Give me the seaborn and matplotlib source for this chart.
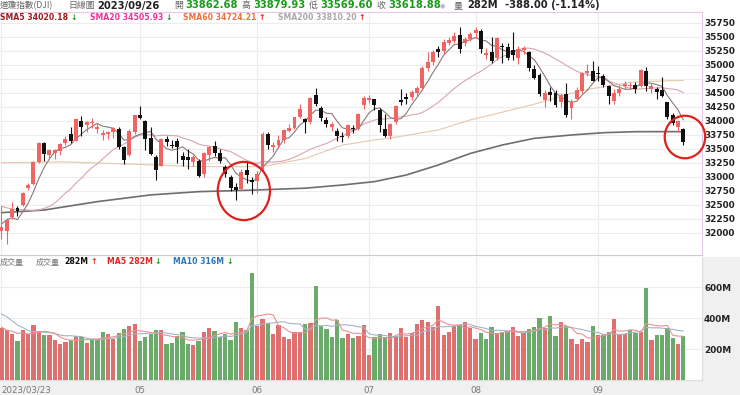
import numpy as np
import pandas as pd
import matplotlib
matplotlib.use("Agg")
import matplotlib.pyplot as plt
from matplotlib.patches import Ellipse, Rectangle
import seaborn as sns

# daily OHLC of the Dow Jones index, 2023/03/23 .. 2023/09/26
opens = [32040, 32030, 32290, 32440, 32500, 32810, 32870,
         33260, 33600, 33400, 33420, 33470, 33600, 33760, 33650, 34000, 33930, 33960, 33860, 33750, 33760, 33800, 33860, 33530, 33390, 33800,
         34100, 34000, 33700, 33350, 33200, 33680, 33580, 33650, 33380, 33350, 33260, 33290, 33050, 33400, 33560, 33420, 33180, 33000, 32820, 32790, 33120, 32950,
         32920, 33140, 33760, 33540, 33580, 33660, 33830, 33880, 34080, 34040, 33980, 34470, 34230, 34020, 33900, 33830, 33730, 33730, 33870, 33860, 34280,
         34380, 34390, 34200, 33850, 33740, 33980, 34380, 34420, 34420, 34500, 34590, 34950, 35050, 35290, 35250, 35400, 35430, 35540, 35400, 35470,
         35570, 35600, 35180, 35240, 35120, 35340, 35320, 35260, 35120, 35260, 35230, 34930, 34820, 34370, 34520, 34500, 34340, 34490, 34230, 34400, 34540, 34860, 34900,
         34860, 34800, 34620, 34360, 34500, 34620, 34620, 34640, 34620, 34900, 34570, 34580, 34560, 34340, 34100, 33900, 33862.68]
highs = [32480, 32260, 32550, 32480, 32740, 32900, 33280,
         33630, 33620, 33500, 33500, 33600, 33740, 33900, 34050, 34090, 34000, 34060, 33950, 33840, 33830, 33900, 33890, 33560, 33850, 34110,
         34260, 34020, 33900, 33400, 33700, 33730, 33660, 33700, 33450, 33500, 33400, 33330, 33450, 33550, 33650, 33500, 33210, 33030, 32900, 33150, 33260, 33000,
         33100, 33800, 33800, 33620, 33750, 33850, 33950, 34070, 34310, 34060, 34420, 34590, 34260, 34080, 33980, 33880, 33800, 33950, 33930, 34150, 34450,
         34470, 34400, 34230, 34130, 33960, 34280, 34580, 34500, 34560, 34620, 34980, 35230, 35270, 35330, 35460, 35500, 35580, 35680, 35500, 35580,
         35680, 35640, 35300, 35500, 35500, 35400, 35400, 35580, 35330, 35330, 35250, 35000, 34850, 34550, 34600, 34560, 34500, 34680, 34400, 34600, 34870, 35020, 35070,
         34980, 34840, 34650, 34580, 34650, 34720, 34700, 34700, 34930, 34960, 34680, 34600, 34790, 34340, 34150, 34020, 33879.93]
lows = [31900, 31810, 32250, 32300, 32480, 32760, 32850,
        33250, 33290, 33330, 33320, 33400, 33580, 33600, 33640, 33730, 33800, 33880, 33780, 33660, 33680, 33700, 33500, 33240, 33380, 33760,
        34030, 33480, 33400, 32940, 33190, 33560, 33520, 33250, 33200, 33150, 33200, 33000, 33000, 33280, 33380, 33250, 33000, 32750, 32590, 32770, 32900, 32700,
        32710, 33100, 33500, 33450, 33520, 33600, 33800, 33850, 34050, 33780, 33950, 34270, 34000, 33900, 33820, 33650, 33630, 33700, 33790, 33840, 34220,
        34330, 34200, 33800, 33720, 33680, 33940, 34290, 34300, 34380, 34450, 34560, 34900, 35000, 35150, 35200, 35350, 35400, 35210, 35330, 35420,
        35480, 35210, 35100, 35030, 35080, 35030, 35080, 35080, 35020, 35200, 34900, 34750, 34450, 34250, 34350, 34250, 34250, 34070, 34040, 34380, 34500, 34810, 34710,
        34720, 34600, 34300, 34310, 34450, 34580, 34580, 34500, 34600, 34540, 34500, 34400, 34420, 34030, 33930, 33800, 33569.60]
closes = [32105, 32237, 32432, 32394, 32717, 32859, 33274,
          33601, 33402, 33482, 33485, 33587, 33684, 33646, 34029, 33886, 33987, 33976, 33897, 33786, 33809, 33875, 33530, 33301, 33826, 34098,
          34051, 33684, 33414, 33128, 33674, 33619, 33562, 33531, 33309, 33300, 33349, 33012, 33420, 33535, 33427, 33286, 33056, 32800, 32765, 33093, 33042, 32908,
          33061, 33762, 33563, 33573, 33665, 33833, 33876, 34066, 34212, 33979, 34408, 34299, 34053, 33951, 33946, 33727, 33714, 33927, 33852, 34122, 34408,
          34418, 34288, 33922, 33734, 33944, 34261, 34347, 34395, 34509, 34586, 34952, 35061, 35225, 35228, 35411, 35438, 35520, 35282, 35459, 35560,
          35630, 35283, 35215, 35066, 35473, 35314, 35123, 35176, 35281, 35308, 34946, 34766, 34475, 34501, 34464, 34288, 34472, 34099, 34347, 34560, 34852.67, 34890.24, 34721.91,
          34837.71, 34641.97, 34443.19, 34500.73, 34576.59, 34663.72, 34645.99, 34575.53, 34907.11, 34618.24, 34624.30, 34517.73, 34440.88, 34070.42, 33963.84, 34006.88, 33618.88]
# volume, millions of shares
volumes = [337, 320, 295, 252, 320, 295, 355, 318, 288, 288,
           260, 234, 243, 260, 282, 280, 237, 262, 262, 312,
           297, 262, 303, 327, 348, 359, 252, 277, 297, 320,
           320, 230, 237, 282, 310, 232, 226, 252, 312, 335,
           316, 275, 297, 256, 372, 333, 325, 692, 350, 392,
           370, 297, 353, 275, 267, 312, 312, 359, 366, 606,
           346, 329, 280, 385, 271, 299, 271, 282, 353, 161,
           277, 299, 277, 305, 284, 335, 280, 305, 361, 387,
           372, 342, 477, 288, 312, 350, 353, 372, 335, 262,
           305, 267, 344, 305, 312, 316, 342, 284, 305, 327,
           342, 400, 333, 413, 284, 374, 348, 264, 232, 267,
           245, 350, 288, 288, 310, 392, 297, 297, 322, 301,
           312, 592, 258, 290, 290, 333, 273, 232, 282]
# sessions before the window, only needed to start the moving averages
closes_before = [32817, 32889, 32657, 32662, 33004, 33391, 33431, 32856, 32798, 32255,
                 31910, 31819, 32155, 31875, 32247, 31862, 32245, 32561, 32030]
volumes_before = [500, 560, 520, 480, 493, 420, 330, 320, 300]
# long averages (session index, value)
sma60_idx = [0, 12, 24, 37, 49, 57, 64, 70, 74, 82, 88, 92, 100, 109, 119, 128]
sma60_val = [33255, 33270, 33230, 33185, 33185, 33330, 33570, 33660, 33710, 33840, 34020, 34110, 34300, 34550, 34700, 34724.21]
sma200_idx = [0, 8, 18, 28, 37, 47, 57, 64, 70, 76, 82, 88, 94, 100, 107, 113, 119, 128]
sma200_val = [32363, 32410, 32560, 32680, 32738, 32765, 32800, 32857, 32917, 33036, 33214, 33420, 33571, 33690, 33750, 33791, 33809, 33810.20]
holidays = ["2023-04-07", "2023-05-29", "2023-06-19", "2023-07-04", "2023-09-04"]

dates = pd.bdate_range("2023-03-23", "2023-09-26")
dates = dates[~dates.isin(pd.to_datetime(holidays))]
n = len(closes)

df = pd.DataFrame({"i": np.arange(n), "open": opens, "high": highs, "low": lows,
                   "close": closes, "vol": volumes})
all_close = pd.Series(closes_before + closes, dtype=float)
df["sma5"] = all_close.rolling(5).mean().iloc[len(closes_before):].values
df["sma20"] = all_close.rolling(20).mean().iloc[len(closes_before):].values
prev_close = all_close.shift(1).iloc[len(closes_before):].values
df["dir"] = np.where(df["close"] >= prev_close, "up", "down")
all_vol = pd.Series(volumes_before + volumes, dtype=float)
df["vma5"] = all_vol.rolling(5).mean().iloc[len(volumes_before):].values
df["vma10"] = all_vol.rolling(10).mean().iloc[len(volumes_before):].values

month = dates.month
tick_pos = [0] + [i for i in range(1, n) if month[i] != month[i - 1] and month[i] >= 5]
tick_lab = [dates[0].strftime("%Y/%m/%d")] + [dates[i].strftime("%m") for i in tick_pos[1:]]

RED = "#f06464"
BLACK = "#111111"
GREEN_VOL = "#62b462"
RED_VOL = "#f25d5d"
UP_TXT = "#e0201a"
DN_TXT = "#1c9a1c"

sns.set_style("white")
plt.rcParams["font.family"] = ["DejaVu Sans", "Noto Sans CJK TC"]

W, H = 740, 395
fig = plt.figure(figsize=(W / 100, H / 100), dpi=100)
fig.patch.set_facecolor("white")
fig.patches.append(Rectangle((0, 0), 1, 1 - 257 / H, transform=fig.transFigure,
                             color="#f0f0f0", zorder=-5))


def rect(x0, y0, x1, y1):
    return [x0 / W, 1 - y1 / H, (x1 - x0) / W, (y1 - y0) / H]


XLIM = (-0.28, 131.5)

# ---- price panel
ax = fig.add_axes(rect(0, 12, 702, 255))
ax.set_facecolor("white")
sns.lineplot(x=sma200_idx, y=sma200_val, ax=ax, color="#6e6e6e", lw=1.2, zorder=2)
sns.lineplot(x=sma60_idx, y=sma60_val, ax=ax, color="#e6c8ae", lw=0.8, zorder=2)
sns.lineplot(data=df, x="i", y="sma20", ax=ax, color="#d9a6ae", lw=0.8, zorder=2)
sns.lineplot(data=df, x="i", y="sma5", ax=ax, color="#8e7878", lw=0.8, zorder=2)

up = df["close"] >= df["open"]
ccol = np.where(up, RED, BLACK)
body_lo = np.minimum(df["open"], df["close"])
body_h = np.maximum((df["close"] - df["open"]).abs(), 14)
ax.vlines(df["i"], df["low"], df["high"], colors=ccol, lw=0.8, zorder=3)
ax.bar(df["i"], body_h, bottom=body_lo, width=0.74, color=ccol, linewidth=0, zorder=4)

# circled spots
ax.add_patch(Ellipse((45.5, 32750), 9.8, 1040, fill=False, ec="#e0201a", lw=1.6,
                     zorder=6, clip_on=False))
ax.add_patch(Ellipse((128.3, 33714), 7.6, 760, fill=False, ec="#e0201a", lw=1.6,
                     zorder=6, clip_on=False))

ax.set_xlim(*XLIM)
ax.set_ylim(31607, 35946)
ax.set_yticks(np.arange(32000, 35751, 250))
ax.set_xticks(tick_pos)
ax.set_xticklabels([])
ax.set_xlabel("")
ax.set_ylabel("")
ax.grid(True, color="#ececec", lw=0.8, zorder=0)
ax.set_axisbelow(True)
ax.yaxis.tick_right()
ax.tick_params(axis="y", length=0, pad=1.5, labelsize=6.4, labelcolor="#222222")
ax.tick_params(axis="x", length=0)
for lab in ax.get_yticklabels():
    lab.set_fontweight("bold")
for side in ["top", "right"]:
    ax.spines[side].set_color("#e8c8e8")
    ax.spines[side].set_linewidth(0.8)
ax.spines["bottom"].set_color("#cccccc")
ax.spines["bottom"].set_linewidth(0.8)
ax.spines["left"].set_visible(False)

# ---- volume panel
axv = fig.add_axes(rect(0, 257, 702, 380))
axv.set_facecolor("white")
sns.barplot(data=df, x="i", y="vol", hue="dir", palette={"up": RED_VOL, "down": GREEN_VOL},
            dodge=False, native_scale=True, width=0.8, legend=False, ax=axv,
            linewidth=0, zorder=3)
sns.lineplot(data=df, x="i", y="vma10", ax=axv, color="#a3b4c8", lw=0.8, zorder=4)
sns.lineplot(data=df, x="i", y="vma5", ax=axv, color="#ee9090", lw=0.8, zorder=4)
axv.set_xlim(*XLIM)
axv.set_ylim(0, 794)
axv.set_yticks([200, 400, 600])
axv.set_yticklabels(["200M", "400M", "600M"])
axv.set_xticks(tick_pos)
axv.set_xticklabels(tick_lab)
axv.get_xticklabels()[0].set_horizontalalignment("left")
axv.set_xlabel("")
axv.set_ylabel("")
axv.grid(True, color="#ececec", lw=0.8, zorder=0)
axv.set_axisbelow(True)
axv.yaxis.tick_right()
axv.tick_params(axis="y", length=0, pad=1.5, labelsize=6.4, labelcolor="#222222")
axv.tick_params(axis="x", length=0, pad=4, labelsize=6.2, labelcolor="#777777")
for lab in axv.get_yticklabels():
    lab.set_fontweight("bold")
for side in ["top", "left"]:
    axv.spines[side].set_visible(False)
axv.spines["right"].set_color("#dddddd")
axv.spines["bottom"].set_color("#dddddd")

# ---- header texts
CJK = ["Noto Sans CJK TC", "DejaVu Sans"]
renderer = fig.canvas.get_renderer()


def put(x, y, s, color="#222222", size=7.2, weight="bold", family=None, ha="left"):
    t = fig.text(x / W, 1 - y / H, s, color=color, fontsize=size, fontweight=weight,
                 va="center", ha=ha, family=family or ["DejaVu Sans", "Noto Sans CJK TC"])
    return t.get_window_extent(renderer).x1


def arrow(v_now, v_prev):
    return ("↑", UP_TXT) if v_now >= v_prev else ("↓", DN_TXT)


last = df.iloc[-1]
chg = closes[-1] - closes[-2]
pct = chg / closes[-2] * 100
y1 = 5.5
put(0, y1, "道瓊指數(DJI)", "#666666", 6.2, "normal", CJK)
put(68, y1, "日線圖", "#666666", 6.4, "normal", CJK)
put(97, y1, dates[-1].strftime("%Y/%m/%d"))
put(174, y1, "開", "#666666", 6.4, "normal", CJK)
put(185, y1, f"{last['open']:.2f}", DN_TXT)
put(242, y1, "高", "#666666", 6.4, "normal", CJK)
put(253, y1, f"{last['high']:.2f}", DN_TXT)
put(309, y1, "低", "#666666", 6.4, "normal", CJK)
put(320, y1, f"{last['low']:.2f}", DN_TXT)
put(376, y1, "收", "#666666", 6.4, "normal", CJK)
put(388, y1, f"{last['close']:.2f}", DN_TXT)
put(440, y1, "●", "#c4b4e8", 4.5, "normal")
put(454, y1, "量", "#666666", 6.4, "normal", CJK)
put(467, y1, f"{last['vol']:.0f}M")
put(505, y1, f"{chg:.2f} ({pct:.2f}%)")

y2 = 18
ma_items = [
    (0, "SMA5", df["sma5"].iloc[-1], df["sma5"].iloc[-2], "#9b1c1c"),
    (90, "SMA20", df["sma20"].iloc[-1], df["sma20"].iloc[-2], "#e0379a"),
    (183, "SMA60", sma60_val[-1], sma60_val[-2] + 10, "#e8733c"),
    (278, "SMA200", sma200_val[-1], sma200_val[-2], "#a8a8a8"),
]
for x0, name, v, vp, col in ma_items:
    x1 = put(x0, y2, f"{name} {v:.2f}", col, 5.6)
    a, acol = arrow(v, vp)
    put(x1 + 2, y2, a, acol, 5.6)

y3 = 262
put(0, y3, "成交量", "#777777", 5.8, "normal", CJK)
put(36, y3, "成交量", "#777777", 5.8, "normal", CJK)
x1 = put(64, y3, f"{volumes[-1]}M", "#111111", 5.6)
a, acol = arrow(volumes[-1], volumes[-2])
put(x1 + 2, y3, a, acol, 5.6)
x1 = put(107, y3, f"MA5 {df['vma5'].iloc[-1]:.0f}M", "#e02424", 5.6)
a, acol = arrow(df["vma5"].iloc[-1], df["vma5"].iloc[-2])
put(x1 + 2, y3, a, acol, 5.6)
x1 = put(173, y3, f"MA10 {df['vma10'].iloc[-1]:.0f}M", "#2a78b8", 5.6)
a, acol = arrow(df["vma10"].iloc[-1], df["vma10"].iloc[-2])
put(x1 + 2, y3, a, acol, 5.6)

fig.savefig("out.png", dpi=100, facecolor=fig.get_facecolor())
